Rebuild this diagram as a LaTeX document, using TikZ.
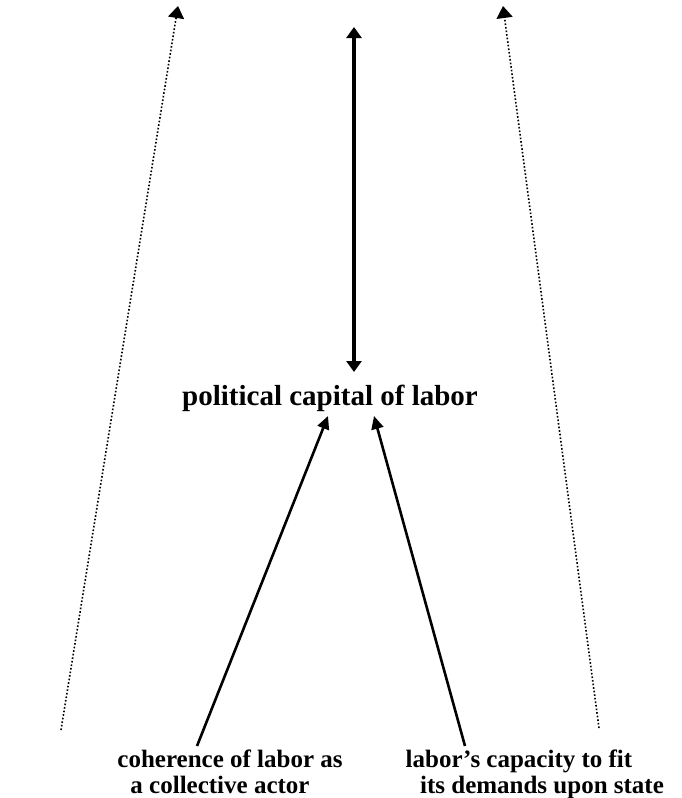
\documentclass[tikz,border=0pt]{standalone}
\usepackage{fontspec}
\setmainfont{Liberation Serif}
\usetikzlibrary{arrows.meta}
\begin{document}
\begin{tikzpicture}[x=1pt,y=-1pt,
  lbl/.style={font=\bfseries\fontsize{29}{32}\selectfont, inner sep=0pt, anchor=base},
  sublbl/.style={font=\bfseries\fontsize{25}{28}\selectfont, inner sep=0pt, anchor=base},
  dotarrow/.style={line width=1.6pt, dash pattern=on 1.6pt off 2pt, -{Triangle[length=12pt,width=16pt]}},
  solidarrow/.style={line width=2.6pt, -{Triangle[length=13pt,width=12pt]}},
  dblarrow/.style={line width=4pt, {Triangle[length=11pt,width=15pt]}-{Triangle[length=11pt,width=15pt]}}]
\useasboundingbox (0,0) rectangle (681,798);
% labels
\node[lbl] (pcl) at (330,405) {political capital of labor};
\node[sublbl] (coh1) at (230,767) {coherence of labor as};
\node[sublbl] (coh2) at (220,793) {a collective actor};
\node[sublbl] (cap1) at (519,767) {labor’s capacity to fit};
\node[sublbl] (cap2) at (542,793) {its demands upon state};
% coordinates
\coordinate (dtop) at (354,27);
\coordinate (dbot) at (354,372);
\coordinate (ldots) at (61,730);
\coordinate (ldote) at (178,6);
\coordinate (rdots) at (599,728);
\coordinate (rdote) at (503,6);
\coordinate (lsols) at (197,746);
\coordinate (lsole) at (328,416);
\coordinate (rsols) at (465,746);
\coordinate (rsole) at (374,416);
% connectors
\draw[dblarrow] (dbot) -- (dtop);
\draw[dotarrow] (ldots) -- (ldote);
\draw[dotarrow] (rdots) -- (rdote);
\draw[solidarrow] (lsols) -- (lsole);
\draw[solidarrow] (rsols) -- (rsole);
\end{tikzpicture}
\end{document}
